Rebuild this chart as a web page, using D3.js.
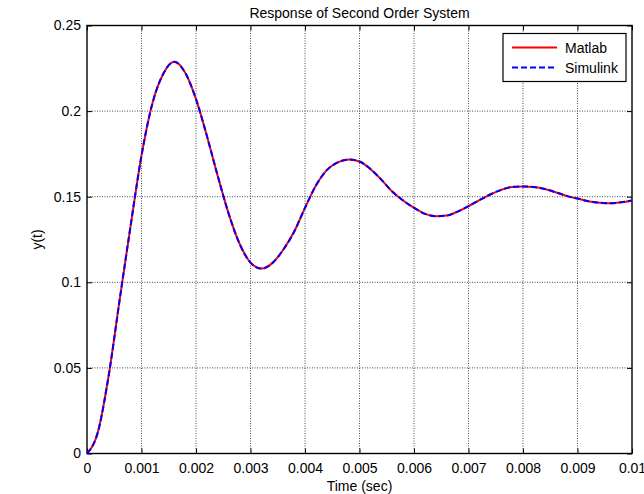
<!DOCTYPE html>
<html>
<head>
<meta charset="utf-8">
<script src="https://cdn.jsdelivr.net/npm/d3@7"></script>
<style>
  body { margin: 0; background: #fff; }
  svg { display: block; font-family: "Liberation Sans", Arial, Helvetica, sans-serif; }
</style>
</head>
<body>
<div id="wrapper"></div>
<script>
// time samples (sec) and responses
const timeValues = [0, 0.0002, 0.0004, 0.0006, 0.0008, 0.001, 0.0012, 0.0014, 0.0016, 0.0018,
    0.002, 0.0022, 0.0024, 0.0026, 0.0028, 0.003, 0.0032, 0.0034, 0.0036, 0.0038,
    0.004, 0.0042, 0.0044, 0.0046, 0.0048, 0.005, 0.0052, 0.0054, 0.0056, 0.0058,
    0.006, 0.0062, 0.0064, 0.0066, 0.0068, 0.007, 0.0072, 0.0074, 0.0076, 0.0078,
    0.008, 0.0082, 0.0084, 0.0086, 0.0088, 0.009, 0.0092, 0.0094, 0.0096, 0.0098, 0.01];
const matlabValues = [0, 0.0125, 0.046, 0.090, 0.133, 0.174, 0.2045, 0.2218, 0.2288, 0.2225,
    0.207, 0.1855, 0.162, 0.140, 0.1225, 0.1115, 0.108, 0.1112, 0.119, 0.1295,
    0.1435, 0.1565, 0.1655, 0.1700, 0.1717, 0.1706, 0.1662, 0.1600, 0.1530, 0.1478,
    0.1435, 0.1400, 0.1386, 0.1390, 0.1413, 0.1445, 0.1480, 0.1513, 0.1540, 0.1557,
    0.1560, 0.1556, 0.1545, 0.1526, 0.1505, 0.1489, 0.1474, 0.1465, 0.1462, 0.1467, 0.1478];
const simulinkValues = matlabValues.slice(); // the two traces lie on top of each other
const xTicks = [0, 0.001, 0.002, 0.003, 0.004, 0.005, 0.006, 0.007, 0.008, 0.009, 0.01];
const yTicks = [0, 0.05, 0.1, 0.15, 0.2, 0.25];
const seriesNames = ["Matlab", "Simulink"];

function buildPlot() {
    const data = timeValues.map((t, i) => ({t: t, m: matlabValues[i], s: simulinkValues[i]}));

    var dimension = {
        width: 644,
        height: 494,
        margin: { top: 25.5, left: 87, bottom: 40.5, right: 12 }
    };
    dimension.boundedWidth = dimension.width - dimension.margin.left - dimension.margin.right;
    dimension.boundedHeight = dimension.height - dimension.margin.top - dimension.margin.bottom;

    const svg = d3.select("#wrapper").append("svg")
        .attr("width", dimension.width)
        .attr("height", dimension.height);

    const bounded = svg.append("g")
        .attr("transform", `translate(${dimension.margin.left}, ${dimension.margin.top})`);

    const xScaler = d3.scaleLinear().domain([0, 0.01]).range([0, dimension.boundedWidth]);
    const yScaler = d3.scaleLinear().domain([0, 0.25]).range([dimension.boundedHeight, 0]);

    // dotted grid
    bounded.append("g").selectAll("line").data(xTicks.slice(1, -1)).join("line")
        .attr("x1", d => xScaler(d)).attr("x2", d => xScaler(d))
        .attr("y1", 0).attr("y2", dimension.boundedHeight)
        .attr("stroke", "#4a4a4a").attr("stroke-width", 1).attr("stroke-dasharray", "1,1.5");
    bounded.append("g").selectAll("line").data(yTicks.slice(1, -1)).join("line")
        .attr("y1", d => yScaler(d)).attr("y2", d => yScaler(d))
        .attr("x1", 0).attr("x2", dimension.boundedWidth)
        .attr("stroke", "#4a4a4a").attr("stroke-width", 1).attr("stroke-dasharray", "1,1.5");

    // axes with inward ticks, labels only bottom/left
    const fmt = d => d === 0 ? "0" : d3.format("~g")(d);
    const xAxis = d3.axisBottom(xScaler).tickValues(xTicks).tickSize(-5).tickPadding(10).tickFormat(fmt);
    const yAxis = d3.axisLeft(yScaler).tickValues(yTicks).tickSize(-5).tickPadding(6).tickFormat(fmt);
    const xTop = d3.axisTop(xScaler).tickValues(xTicks).tickSize(-5).tickFormat("");
    const yRight = d3.axisRight(yScaler).tickValues(yTicks).tickSize(-5).tickFormat("");

    const styleAxis = g => {
        g.select(".domain").remove();
        g.selectAll("line").attr("stroke", "#000");
        g.selectAll("text").attr("fill", "#000").style("font-size", "14px");
        g.attr("font-family", null);
    };
    bounded.append("g").attr("transform", `translate(0, ${dimension.boundedHeight})`).call(xAxis).call(styleAxis);
    bounded.append("g").call(yAxis).call(styleAxis);
    bounded.append("g").call(xTop).call(styleAxis);
    bounded.append("g").attr("transform", `translate(${dimension.boundedWidth}, 0)`).call(yRight).call(styleAxis);

    bounded.append("rect")
        .attr("x", 0).attr("y", 0)
        .attr("width", dimension.boundedWidth).attr("height", dimension.boundedHeight)
        .attr("fill", "none").attr("stroke", "#000").attr("stroke-width", 1.4);

    const matlabLine = d3.line().x(d => xScaler(d.t)).y(d => yScaler(d.m)).curve(d3.curveMonotoneX);
    const simulinkLine = d3.line().x(d => xScaler(d.t)).y(d => yScaler(d.s)).curve(d3.curveMonotoneX);

    bounded.append("path")
        .attr("d", matlabLine(data))
        .attr("fill", "none").attr("stroke", "#ff0000").attr("stroke-width", 2);
    bounded.append("path")
        .attr("d", simulinkLine(data))
        .attr("fill", "none").attr("stroke", "#0000ff").attr("stroke-width", 2)
        .attr("stroke-dasharray", "6,3");

    // legend
    const legend = bounded.append("g").attr("transform", `translate(${dimension.boundedWidth - 129}, 8)`);
    legend.append("rect")
        .attr("x", 0).attr("y", 0).attr("width", 123).attr("height", 48)
        .attr("fill", "#fff").attr("stroke", "#000").attr("stroke-width", 1.2);
    const entries = legend.selectAll("g.entry").data(seriesNames).join("g")
        .attr("transform", (d, i) => `translate(0, ${14 + i * 20})`);
    entries.append("line")
        .attr("x1", 9).attr("x2", 54).attr("y1", 0).attr("y2", 0)
        .attr("stroke", (d, i) => i === 0 ? "#ff0000" : "#0000ff")
        .attr("stroke-width", 2)
        .attr("stroke-dasharray", (d, i) => i === 0 ? null : "6,3");
    entries.append("text")
        .attr("x", 62).attr("y", 5.5)
        .style("font-size", "14px")
        .text(d => d);

    // titles
    svg.append("text")
        .attr("x", dimension.margin.left + dimension.boundedWidth / 2)
        .attr("y", 17.5)
        .attr("text-anchor", "middle")
        .style("font-size", "14px")
        .text("Response of Second Order System");

    svg.append("text")
        .attr("x", dimension.margin.left + dimension.boundedWidth / 2)
        .attr("y", 491)
        .attr("text-anchor", "middle")
        .style("font-size", "14px")
        .text("Time (sec)");

    svg.append("text")
        .attr("text-anchor", "middle")
        .attr("transform", `translate(42, ${dimension.margin.top + dimension.boundedHeight / 2})rotate(-90)`)
        .style("font-size", "14px")
        .text("y(t)");
}

buildPlot();
</script>
</body>
</html>
